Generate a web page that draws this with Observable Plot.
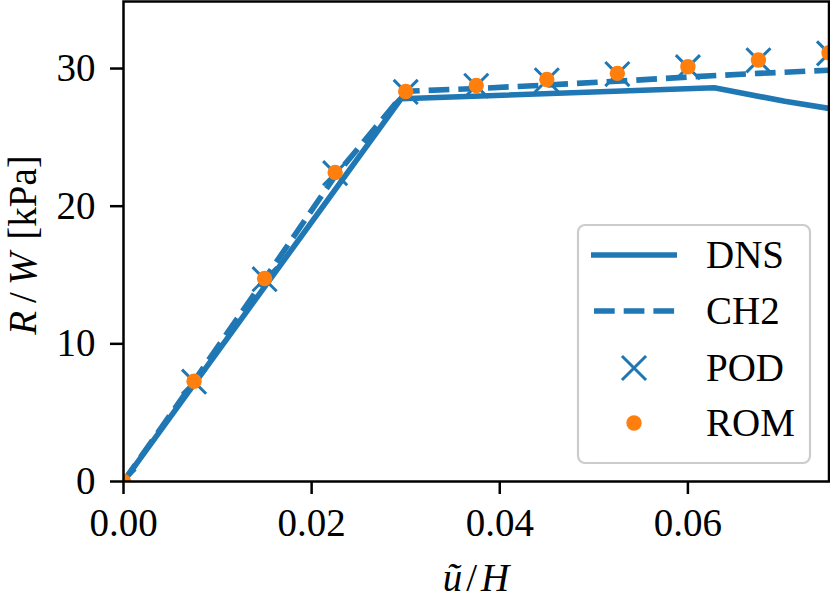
<!DOCTYPE html>
<html>
<head>
<meta charset="utf-8">
<script src="https://cdn.jsdelivr.net/npm/d3@7"></script>
<script src="https://cdn.jsdelivr.net/npm/@observablehq/plot@0.6"></script>
<style>
  html, body { margin: 0; padding: 0; background: white; }
  #chart { position: relative; width: 830px; height: 601px; }
  #chart text { font-family: "Liberation Serif", "Times New Roman", Times, serif; }
</style>
</head>
<body>
<div id="chart"></div>
<script>
// ---- data ----
const sampleX = [0, 0.0075, 0.015, 0.0225, 0.03, 0.0375, 0.045, 0.0525, 0.06, 0.0675, 0.075];
const romY = [0, 7.28, 14.75, 22.45, 28.33, 28.77, 29.2, 29.65, 30.13, 30.62, 31.15];
const podY = [0, 7.25, 14.7, 22.4, 28.3, 28.75, 29.15, 29.6, 30.1, 30.6, 31.1];
const ch2Y = [0, 7.3, 14.7, 22.2, 28.35, 28.55, 28.8, 29.08, 29.38, 29.65, 29.88];
const dnsX = [0, 0.0295, 0.0628, 0.0703, 0.075];
const dnsY = [0, 27.8, 28.6, 27.62, 27.1];
const xTicks = [0, 0.02, 0.04, 0.06];
const yTicks = [0, 10, 20, 30];
const seriesNames = ["DNS", "CH2", "POD", "ROM"];

const blue = "#1f77b4", orange = "#ff7f0e";
const FONT = "Liberation Serif, Times New Roman, Times, serif";
const FS = 39;

const dns = dnsX.map((x, i) => ({x, y: dnsY[i]}));
const ch2 = sampleX.map((x, i) => ({x, y: ch2Y[i]}));
const pod = sampleX.map((x, i) => ({x, y: podY[i]}));
const rom = sampleX.map((x, i) => ({x, y: romY[i]}));

const lw = 5.6;
const dash = `${(3.7*lw).toFixed(1)},${(1.6*lw).toFixed(1)}`;
const podR = 11;

const plot = Plot.plot({
  width: 830,
  height: 601,
  marginLeft: 123,
  marginRight: 1.5,
  marginTop: 1,
  marginBottom: 120,
  style: {fontFamily: FONT, fontSize: FS + "px", color: "black", background: "white", overflow: "visible"},
  x: {domain: [0, 0.075]},
  y: {domain: [0, 34.87]},
  marks: [
    Plot.line(dns, {x: "x", y: "y", stroke: blue, strokeWidth: lw, strokeLinecap: "butt", strokeLinejoin: "round", clip: true}),
    Plot.line(ch2, {x: "x", y: "y", stroke: blue, strokeWidth: lw, strokeDasharray: dash, strokeLinecap: "butt", strokeLinejoin: "round", clip: true}),
    Plot.dot(pod, {x: "x", y: "y", symbol: "times", r: podR, stroke: blue, strokeWidth: 3, clip: true}),
    Plot.dot(rom, {x: "x", y: "y", r: 7.7, fill: orange, stroke: "none", clip: true}),
    Plot.frame({stroke: "black", strokeWidth: 2.5}),
    Plot.axisX({ticks: xTicks, tickFormat: d => d.toFixed(2), tickSize: 13, tickPadding: 14, fontSize: FS, strokeWidth: 2.5, label: null}),
    Plot.axisY({ticks: yTicks, tickFormat: d => String(d), tickSize: 13, tickPadding: 15, fontSize: FS, strokeWidth: 2.5, label: null})
  ]
});
document.getElementById("chart").appendChild(plot);

const svg = d3.select(plot);

// axis labels
const xl = svg.append("text")
  .attr("x", 476).attr("y", 591)
  .attr("text-anchor", "middle")
  .attr("font-size", FS).attr("fill", "black");
xl.append("tspan").attr("font-style", "italic").text("\u0169");
xl.append("tspan").attr("dx", 4).text("/");
xl.append("tspan").attr("dx", 4).attr("font-style", "italic").text("H");

const yl = svg.append("text")
  .attr("transform", "translate(36,245) rotate(-90)")
  .attr("text-anchor", "middle")
  .attr("font-size", FS).attr("fill", "black");
yl.append("tspan").attr("font-style", "italic").text("R");
yl.append("tspan").attr("dx", 8).text("/");
yl.append("tspan").attr("dx", 7).attr("font-style", "italic").text("W");
yl.append("tspan").attr("dx", 3).text(" [kPa]");

// legend
const lg = svg.append("g");
lg.append("rect")
  .attr("x", 578).attr("y", 225).attr("width", 232).attr("height", 238)
  .attr("rx", 7).attr("ry", 7)
  .attr("fill", "white").attr("fill-opacity", 0.85)
  .attr("stroke", "#cccccc").attr("stroke-width", 2.2);
const rowY = [255, 311, 368, 423];
lg.append("line").attr("x1", 591).attr("x2", 677).attr("y1", rowY[0]).attr("y2", rowY[0])
  .attr("stroke", blue).attr("stroke-width", lw);
lg.append("line").attr("x1", 594).attr("x2", 677).attr("y1", rowY[1]).attr("y2", rowY[1])
  .attr("stroke", blue).attr("stroke-width", lw).attr("stroke-dasharray", dash);
lg.append("path")
  .attr("d", d3.symbol(d3.symbolTimes, Math.PI * podR * podR)())
  .attr("transform", `translate(634,${rowY[2]})`)
  .attr("fill", "none").attr("stroke", blue).attr("stroke-width", 3);
lg.append("circle").attr("cx", 634).attr("cy", rowY[3]).attr("r", 7.7).attr("fill", orange);
seriesNames.forEach((name, i) => {
  lg.append("text")
    .attr("x", 706).attr("y", rowY[i]).attr("dy", "0.34em")
    .attr("text-anchor", "start")
    .attr("font-size", FS).attr("fill", "black")
    .text(name);
});
</script>
</body>
</html>
